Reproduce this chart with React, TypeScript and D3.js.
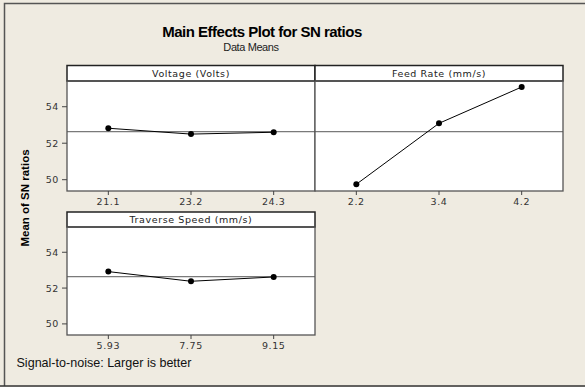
import React from "react";
import * as d3 from "d3";

// Factor levels and mean SN ratios (dB)
const voltageLevels = ["21.1", "23.2", "24.3"];
const voltageSN = [52.82, 52.5, 52.6];
const feedLevels = ["2.2", "3.4", "4.2"];
const feedSN = [49.75, 53.09, 55.08];
const traverseLevels = ["5.93", "7.75", "9.15"];
const traverseSN = [52.92, 52.38, 52.62];
const overallMean = 52.64;
const yTicks = [50, 52, 54];
const yDomain = [49.38, 55.41];

const W = 585;
const H = 387;
const BG = "#EFEBE1";
const tickFont = "'DejaVu Sans', Verdana, sans-serif";
const textFont = "'Liberation Sans', Arial, sans-serif";

type PanelProps = {
  x0: number;
  x1: number;
  top: number;
  stripH: number;
  bottom: number;
  title: string;
  levels: string[];
  values: number[];
  showY: boolean;
};

function Panel({ x0, x1, top, stripH, bottom, title, levels, values, showY }: PanelProps) {
  const plotTop = top + stripH;
  const x = d3.scalePoint<string>().domain(levels).range([x0, x1]).padding(0.5);
  const y = d3.scaleLinear().domain(yDomain).range([bottom, plotTop]);
  const line = d3
    .line<number>()
    .x((_, i) => x(levels[i]) as number)
    .y((d) => y(d));
  return (
    <g>
      <rect x={x0} y={top} width={x1 - x0} height={bottom - top} fill="#fff" />
      {/* overall mean reference line */}
      <line x1={x0} x2={x1} y1={y(overallMean)} y2={y(overallMean)} stroke="#7a7a7a" strokeWidth={1.2} />
      <path d={line(values) || ""} fill="none" stroke="#000" strokeWidth={1} />
      {values.map((v, i) => (
        <circle key={i} cx={x(levels[i]) as number} cy={y(v)} r={3} fill="#000" />
      ))}
      {/* strip header */}
      <rect x={x0} y={top} width={x1 - x0} height={stripH} fill="#fff" stroke="#222" strokeWidth={1.5} />
      <text
        x={(x0 + x1) / 2}
        y={top + stripH - 4}
        textAnchor="middle"
        fontFamily={tickFont}
        fontSize={9.5}
        letterSpacing={0.6}
        fill="#222"
      >
        {title}
      </text>
      <rect x={x0} y={plotTop} width={x1 - x0} height={bottom - plotTop} fill="none" stroke="#555" strokeWidth={1.3} />
      {/* x ticks */}
      {levels.map((l) => (
        <g key={l}>
          <line x1={x(l) as number} x2={x(l) as number} y1={bottom} y2={bottom + 4} stroke="#444" />
          <text
            x={x(l) as number}
            y={bottom + 14}
            textAnchor="middle"
            fontFamily={tickFont}
            fontSize={9.5}
            letterSpacing={0.6}
            fill="#333"
          >
            {l}
          </text>
        </g>
      ))}
      {showY &&
        yTicks.map((t) => (
          <g key={t}>
            <line x1={x0 - 5} x2={x0} y1={y(t)} y2={y(t)} stroke="#444" />
            <text
              x={x0 - 8}
              y={y(t) + 3.5}
              textAnchor="end"
              fontFamily={tickFont}
              fontSize={9.5}
              letterSpacing={0.6}
              fill="#333"
            >
              {t}
            </text>
          </g>
        ))}
    </g>
  );
}

export default function App() {
  return (
    <svg
      width={W}
      height={H}
      style={{ position: "absolute", left: 0, top: 0, display: "block" }}
    >
      <rect x={0} y={0} width={W} height={H} fill={BG} />
      <path d={`M${W + 2},3.5 H4.5 V386`} fill="none" stroke="#555" strokeWidth={1.5} />
      <line x1={0} x2={W} y1={386} y2={386} stroke="#333" strokeWidth={1.5} />

      <text
        x={262}
        y={37}
        textAnchor="middle"
        fontFamily={textFont}
        fontWeight="bold"
        fontSize={15}
        letterSpacing={-0.5}
        fill="#000"
      >
        Main Effects Plot for SN ratios
      </text>
      <text x={251} y={51} textAnchor="middle" fontFamily={textFont} fontSize={11} letterSpacing={-0.4} fill="#222">
        Data Means
      </text>

      <text
        transform="translate(29,198) rotate(-90)"
        textAnchor="middle"
        fontFamily={textFont}
        fontWeight="bold"
        fontSize={11.5}
        fill="#000"
      >
        Mean of SN ratios
      </text>

      <Panel
        x0={67}
        x1={315}
        top={65.5}
        stripH={15.5}
        bottom={191}
        title="Voltage (Volts)"
        levels={voltageLevels}
        values={voltageSN}
        showY
      />
      <Panel
        x0={315}
        x1={563}
        top={65.5}
        stripH={15.5}
        bottom={191}
        title="Feed Rate (mm/s)"
        levels={feedLevels}
        values={feedSN}
        showY={false}
      />
      <Panel
        x0={67}
        x1={315}
        top={212}
        stripH={15}
        bottom={335}
        title="Traverse Speed (mm/s)"
        levels={traverseLevels}
        values={traverseSN}
        showY
      />

      <text
        x={16.5}
        y={367}
        fontFamily={textFont}
        fontSize={13}
        textLength={175}
        lengthAdjust="spacingAndGlyphs"
        fill="#111"
      >
        Signal-to-noise: Larger is better
      </text>
    </svg>
  );
}
